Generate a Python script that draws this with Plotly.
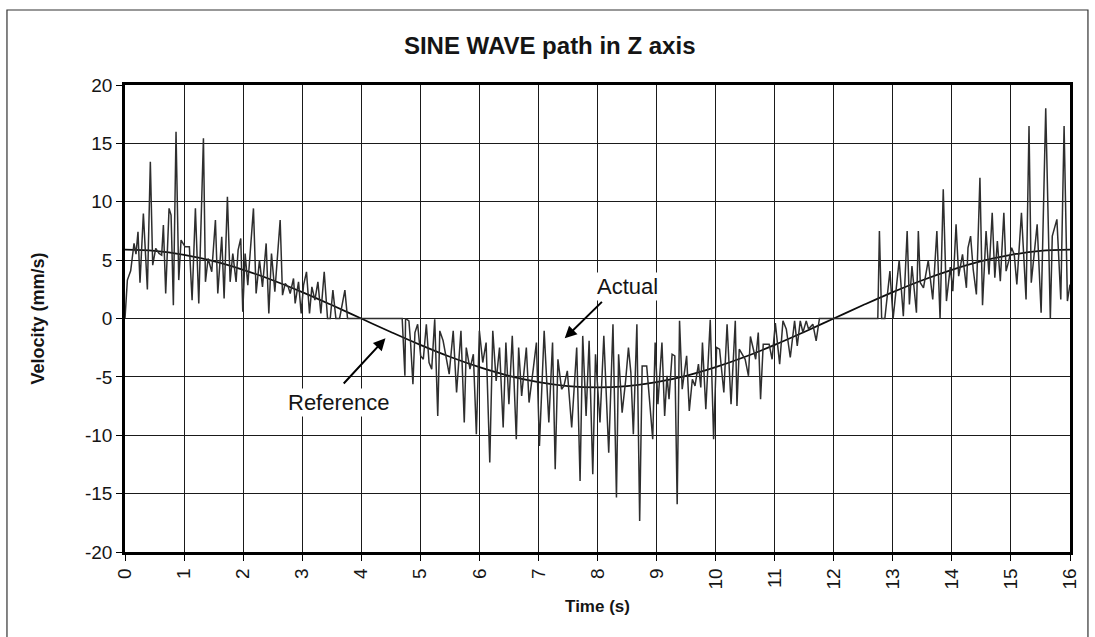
import plotly.graph_objects as go

# Measured velocity samples (time in s, velocity in mm/s)
t_actual = [
    0.0, 0.04, 0.096, 0.153, 0.186, 0.22, 0.254, 0.311, 0.379, 0.429, 0.469, 0.52,
    0.576, 0.621, 0.65, 0.689, 0.746, 0.78, 0.819, 0.864, 0.91, 0.949, 1.017, 1.09,
    1.136, 1.192, 1.249, 1.328, 1.362, 1.407, 1.469, 1.531, 1.571, 1.638, 1.678, 1.734,
    1.78, 1.825, 1.881, 1.915, 1.96, 1.994, 2.034, 2.079, 2.175, 2.22, 2.277, 2.328,
    2.39, 2.435, 2.48, 2.537, 2.627, 2.667, 2.712, 2.763, 2.797, 2.853, 2.881, 2.938,
    2.983, 3.023, 3.073, 3.124, 3.164, 3.215, 3.266, 3.316, 3.373, 3.429, 3.475, 3.52,
    3.571, 3.633, 3.723, 3.768,
    4.693, 4.739, 4.75, 4.807, 4.835, 4.875, 4.909, 4.955, 5.006, 5.051, 5.102, 5.148,
    5.193, 5.244, 5.295, 5.33, 5.386, 5.432, 5.489, 5.557, 5.614, 5.688, 5.744, 5.778,
    5.841, 5.898, 5.949, 6.0, 6.057, 6.114, 6.176, 6.227, 6.284, 6.341, 6.403, 6.449,
    6.5, 6.557, 6.625, 6.665, 6.716, 6.795, 6.841, 6.915, 6.966, 7.017, 7.097, 7.176,
    7.239, 7.284, 7.33, 7.392, 7.432, 7.489, 7.563, 7.648, 7.705, 7.75, 7.807, 7.858,
    7.92, 7.966,
    8.042, 8.107, 8.19, 8.262, 8.321, 8.357, 8.417, 8.476, 8.524, 8.565, 8.607, 8.667,
    8.714, 8.756, 8.833, 8.875, 8.935, 8.976, 9.023, 9.091, 9.137, 9.177, 9.211, 9.263,
    9.309, 9.349, 9.389, 9.434, 9.509, 9.554, 9.606, 9.651, 9.709, 9.749, 9.777, 9.834,
    9.909, 9.966, 10.017, 10.067, 10.139, 10.194, 10.261, 10.333, 10.361, 10.4, 10.5, 10.556,
    10.589, 10.639, 10.678, 10.722, 10.761, 10.806, 10.906, 10.956, 11.011, 11.084, 11.14, 11.197,
    11.264, 11.337, 11.382, 11.433, 11.478, 11.534, 11.573, 11.646, 11.702, 11.758,
    12.746, 12.773, 12.811, 12.865, 12.951, 13.005, 13.108, 13.178, 13.243, 13.281, 13.324, 13.4,
    13.432, 13.465, 13.519, 13.6, 13.676, 13.746, 13.8, 13.854, 13.908, 13.973, 14.016, 14.071,
    14.115, 14.18, 14.246, 14.273, 14.317, 14.361, 14.415, 14.475, 14.519, 14.579, 14.628, 14.683,
    14.727, 14.77, 14.82, 14.88, 14.918, 14.962, 15.011, 15.056, 15.1, 15.178, 15.222, 15.256,
    15.306, 15.344, 15.444, 15.511, 15.589, 15.667, 15.7, 15.778, 15.844, 15.9, 15.956, 16.0,
]
v_actual = [
    0.0, 3.29, 4.09, 6.43, 5.51, 7.43, 3.06, 9.0, 2.49, 13.43, 4.57, 6.0,
    5.57, 5.43, 8.0, 2.14, 9.43, 8.86, 1.14, 16.0, 3.29, 6.71, 6.14, 6.14,
    1.57, 9.43, 1.29, 15.43, 3.14, 5.14, 4.0, 8.43, 2.14, 7.0, 1.71, 10.43,
    3.14, 5.57, 3.14, 5.86, 6.86, 0.57, 5.57, 2.86, 9.43, 2.14, 5.0, 2.71,
    6.43, 0.43, 5.57, 2.29, 8.43, 2.0, 3.0, 2.71, 2.14, 3.43, 1.29, 3.14,
    0.43, 2.86, 4.0, 0.43, 2.71, 1.57, 3.14, 0.43, 4.0, 0.0, 0.0, 2.43,
    0.0, 0.0, 2.43, 0.0,
    0.0, -4.91, 0.0, -0.2, -2.06, -5.63, -1.2, -0.49, -3.2, -3.49, -0.49, -3.77,
    -4.34, -0.06, -8.34, -1.06, -1.91, -3.2, -4.77, -1.06, -6.34, -1.06, -8.91, -2.49,
    -4.34, -3.06, -9.91, -1.06, -3.77, -2.06, -12.34, -1.06, -5.34, -2.49, -9.34, -2.06,
    -7.34, -1.49, -10.34, -2.49, -6.63, -2.49, -7.2, -4.2, -2.06, -10.91, -1.06, -8.91,
    -2.06, -12.91, -3.49, -6.06, -5.77, -4.49, -9.34, -2.49, -13.91, -1.49, -8.34, -1.91,
    -13.34, -3.06,
    -8.91, -1.49, -11.49, -0.49, -15.34, -3.06, -8.06, -5.34, -2.49, -4.63, -9.91, -0.49,
    -17.34, -4.06, -4.06, -6.63, -10.34, -2.06, -7.34, -2.06, -8.34, -4.91, -6.91, -3.06,
    -3.2, -15.91, -0.2, -6.06, -3.2, -7.91, -5.2, -5.77, -3.91, -5.91, -2.06, -7.77,
    -0.11, -10.34, -2.49, -2.63, -6.34, -0.49, -7.34, -0.2, -7.49, -2.63, -3.49, -4.91,
    -1.54, -2.63, -3.49, -1.2, -6.91, -2.2, -2.2, -3.49, -0.4, -3.91, -0.2, -0.91,
    -3.34, -0.2, -2.34, -0.2, -1.2, -0.2, -0.91, -0.49, -1.91, 0.0,
    0.0, 7.49, 0.0, 0.0, 4.06, 0.0, 5.0, 0.2, 7.49, 1.2, 4.49, 0.49,
    7.49, 3.06, 2.63, 4.97, 1.63, 7.49, 0.0, 11.06, 1.49, 4.4, 2.34, 8.06,
    3.63, 5.49, 2.63, 6.06, 7.06, 4.2, 2.06, 12.06, 1.14, 7.49, 3.77, 9.06,
    3.49, 6.63, 3.2, 9.06, 4.06, 4.91, 6.06, 5.49, 2.91, 9.06, 4.34, 1.63,
    16.49, 3.06, 8.06, 0.49, 18.0, 0.0, 7.06, 8.49, 1.63, 16.49, 1.49, 2.91,
]

# Commanded (reference) velocity, every 0.5 s
t_reference = [i * 0.5 for i in range(33)]
v_reference = [
    5.9, 5.79, 5.45, 4.91, 4.17, 3.28, 2.26, 1.15, 0.0, -1.15, -2.26, -3.28,
    -4.17, -4.91, -5.45, -5.79, -5.9, -5.79, -5.45, -4.91, -4.17, -3.28, -2.26, -1.15,
    0.0, 1.15, 2.26, 3.28, 4.17, 4.91, 5.45, 5.79, 5.9,
]

x_ticks = list(range(0, 17))
y_ticks = [-20, -15, -10, -5, 0, 5, 10, 15, 20]

FONT = "Liberation Sans, Arial, sans-serif"
INK = "#151515"

fig = go.Figure()
fig.add_trace(go.Scatter(
    x=t_reference, y=v_reference, mode="lines", name="Reference",
    line=dict(color="#0d0d0d", width=1.7, shape="spline", smoothing=1.0),
))
fig.add_trace(go.Scatter(
    x=t_actual, y=v_actual, mode="lines", name="Actual",
    line=dict(color="#2e2e2e", width=1.5),
))

axis_common = dict(
    showline=True, linecolor="black", linewidth=2.5, mirror=True,
    showgrid=True, gridcolor="#1a1a1a", gridwidth=1.2,
    zeroline=False, ticks="outside", ticklen=6, tickcolor="black",
    tickfont=dict(family=FONT, size=19, color=INK),
)

fig.update_xaxes(
    range=[0, 16], tickvals=x_ticks, ticktext=[str(v) for v in x_ticks],
    tickangle=-90,
    title=dict(text="<b>Time (s)</b>", font=dict(family=FONT, size=17, color=INK),
               standoff=12),
    **axis_common,
)
fig.update_yaxes(
    range=[-20, 20], tickvals=y_ticks, ticktext=[str(v) for v in y_ticks],
    title=dict(text="<b>Velocity (mm/s)</b>", font=dict(family=FONT, size=18, color=INK),
               standoff=36),
    **axis_common,
)

# Callout labels with arrows
fig.add_annotation(x=7.445, y=-1.7, ax=8.1, ay=1.55, xref="x", yref="y",
                   axref="x", ayref="y", text="", showarrow=True,
                   arrowhead=2, arrowsize=1.2, arrowwidth=2, arrowcolor="black")
fig.add_annotation(x=8.5, y=2.7, xref="x", yref="y", text="Actual", showarrow=False,
                   bgcolor="white", font=dict(family=FONT, size=22, color=INK))
fig.add_annotation(x=4.41, y=-1.7, ax=3.68, ay=-5.7, xref="x", yref="y",
                   axref="x", ayref="y", text="", showarrow=True,
                   arrowhead=2, arrowsize=1.2, arrowwidth=2, arrowcolor="black")
fig.add_annotation(x=3.63, y=-7.2, xref="x", yref="y", text="Reference", showarrow=False,
                   bgcolor="white", font=dict(family=FONT, size=22, color=INK))

# Outer chart frame
fig.add_shape(type="rect", xref="paper", yref="paper",
              x0=-0.1249, x1=1.019, y0=-0.19, y1=1.1606,
              line=dict(color="#333333", width=1.2), layer="below")

fig.update_layout(
    width=1095, height=637,
    margin=dict(l=125, r=25, t=85, b=85),
    paper_bgcolor="white", plot_bgcolor="white",
    showlegend=False,
    title=dict(text="<b>SINE WAVE path in Z axis</b>", xref="container", x=0.502,
               xanchor="center", y=0.928, yanchor="middle",
               font=dict(family=FONT, size=24, color=INK)),
)

fig.write_html("out.html")
